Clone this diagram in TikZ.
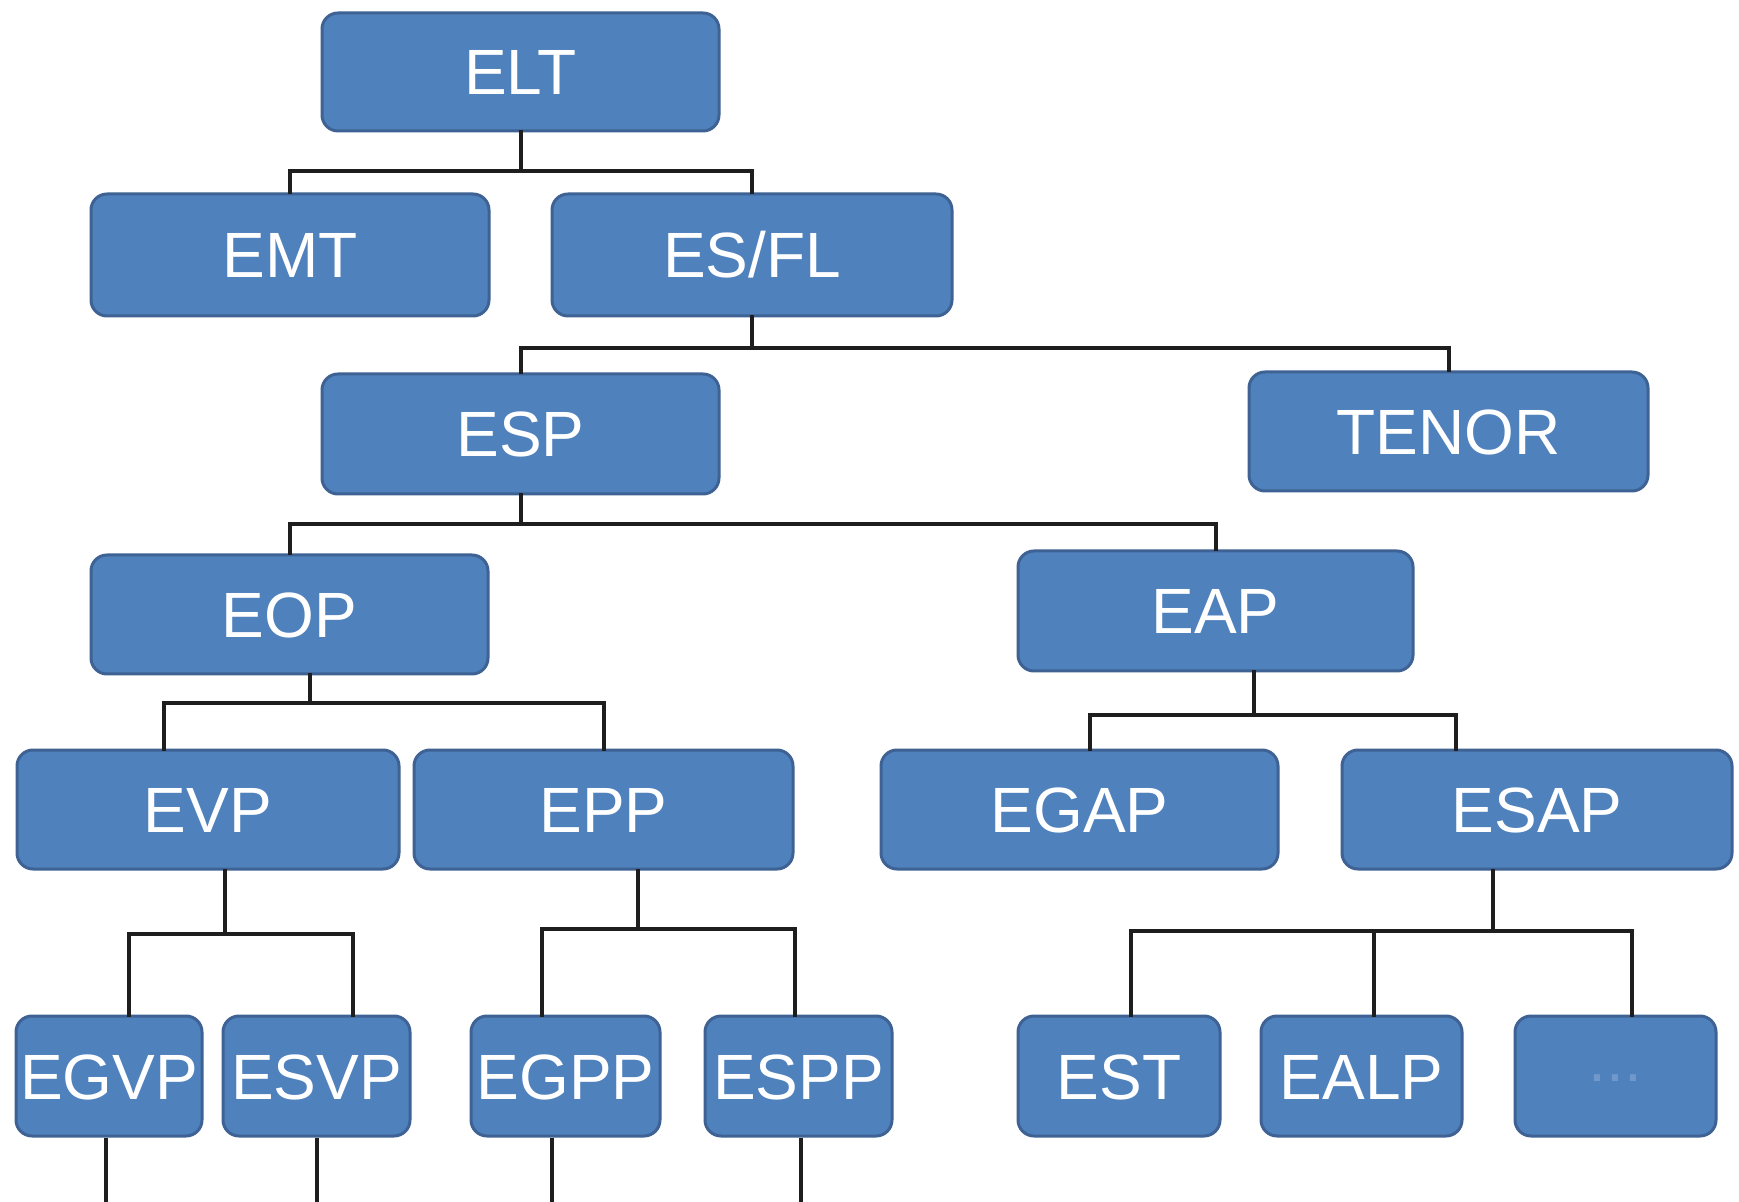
\documentclass[tikz,border=0pt]{standalone}
\usepackage{fontspec}
\setmainfont{Liberation Sans}
\definecolor{boxfill}{HTML}{4F81BD}
\definecolor{boxline}{HTML}{3E6293}
\definecolor{wireclr}{HTML}{1E1E1E}
\definecolor{dimtext}{HTML}{7098CA}
\begin{document}
\begin{tikzpicture}[x=0.5pt,y=-0.5pt,
  box/.style={rectangle, rounded corners=8pt, fill=boxfill, draw=boxline,
    line width=1.5pt, text=white, font=\fontsize{32}{36}\selectfont,
    inner sep=0pt, text height=23pt, text depth=0pt},
  sz/.style 2 args={minimum width=#1*0.5pt, minimum height=#2*0.5pt},
  link/.style={draw=wireclr, line width=2pt, line cap=rect, line join=miter}]

% canvas
\fill[white] (0,0) rectangle (1739,1202);
\useasboundingbox (0,0) rectangle (1739,1202);

% level 0-2
\node[box, sz={397}{118}] (ELT)   at (520.5,72)   {ELT};
\node[box, sz={398}{122}] (EMT)   at (290,255)    {EMT};
\node[box, sz={400}{122}] (ESFL)  at (752,255)    {ES/FL};
\node[box, sz={397}{120}] (ESP)   at (520.5,434)  {ESP};
\node[box, sz={399}{119}] (TENOR) at (1448.5,431.5) {TENOR};
\node[box, sz={397}{119}] (EOP)   at (289.5,614.5) {EOP};
\node[box, sz={395}{120}] (EAP)   at (1215.5,611) {EAP};

% level 3
\node[box, sz={382}{119}] (EVP)  at (208,809.5)    {EVP};
\node[box, sz={379}{119}] (EPP)  at (603.5,809.5)  {EPP};
\node[box, sz={397}{119}] (EGAP) at (1079.5,809.5) {EGAP};
\node[box, sz={390}{119}] (ESAP) at (1537,809.5)   {ESAP};

% level 4
\node[box, sz={186}{120}] (EGVP) at (109,1076)    {EGVP};
\node[box, sz={187}{120}] (ESVP) at (316.5,1076)  {ESVP};
\node[box, sz={189}{120}] (EGPP) at (565.5,1076)  {EGPP};
\node[box, sz={187}{120}] (ESPP) at (798.5,1076)  {ESPP};
\node[box, sz={202}{120}] (EST)  at (1119,1076)   {EST};
\node[box, sz={201}{120}] (EALP) at (1361.5,1076) {EALP};
\node[box, sz={201}{120}, text=dimtext] (MORE) at (1615.5,1076) {\raisebox{9pt}{...}};

% ELT family
\coordinate (jELT) at ([yshift=-19.5pt]ELT.south);
\draw[link] (ELT.south) -- (jELT);
\draw[link] (jELT) -| (EMT.north);
\draw[link] (jELT) -| (ESFL.north);

% ES/FL family
\coordinate (jESFL) at ([yshift=-15.5pt]ESFL.south);
\draw[link] (ESFL.south) -- (jESFL);
\draw[link] (jESFL) -| (ESP.north);
\draw[link] (jESFL) -| (TENOR.north);

% ESP family
\coordinate (jESP) at ([yshift=-14.5pt]ESP.south);
\draw[link] (ESP.south) -- (jESP);
\draw[link] (jESP) -| (EOP.north);
\draw[link] (jESP) -| (EAP.north);

% EOP family
\coordinate (jEOP) at ([xshift=10pt,yshift=-13.5pt]EOP.south);
\draw[link] ([xshift=10pt]EOP.south) -- (jEOP);
\draw[link] (jEOP) -| ([xshift=-22pt]EVP.north);
\draw[link] (jEOP) -| (EPP.north);

% EAP family
\coordinate (jEAP) at ([xshift=19pt,yshift=-21pt]EAP.south);
\draw[link] ([xshift=19pt]EAP.south) -- (jEAP);
\draw[link] (jEAP) -| ([xshift=5pt]EGAP.north);
\draw[link] (jEAP) -| ([xshift=-40.5pt]ESAP.north);

% EVP family
\coordinate (jEVP) at ([xshift=8.5pt,yshift=-31.5pt]EVP.south);
\draw[link] ([xshift=8.5pt]EVP.south) -- (jEVP);
\draw[link] (jEVP) -| ([xshift=10pt]EGVP.north);
\draw[link] (jEVP) -| ([xshift=18pt]ESVP.north);

% EPP family
\coordinate (jEPP) at ([xshift=17pt,yshift=-29pt]EPP.south);
\draw[link] ([xshift=17pt]EPP.south) -- (jEPP);
\draw[link] (jEPP) -| ([xshift=-12pt]EGPP.north);
\draw[link] (jEPP) -| ([xshift=-2pt]ESPP.north);

% ESAP family
\coordinate (jESAP) at ([xshift=-22pt,yshift=-30pt]ESAP.south);
\draw[link] ([xshift=-22pt]ESAP.south) -- (jESAP);
\draw[link] (jESAP) -| ([xshift=6pt]EST.north);
\draw[link] (jESAP) -| ([xshift=6pt]EALP.north);
\draw[link] (jESAP) -| ([xshift=8pt]MORE.north);

% open-ended lines leaving the bottom row
\coordinate (bottom) at (0,1202);
\coordinate (sEGVP) at ([xshift=-1.5pt]EGVP.south);
\coordinate (sESVP) at (ESVP.south);
\coordinate (sEGPP) at ([xshift=-7pt]EGPP.south);
\coordinate (sESPP) at ([xshift=1pt]ESPP.south);
\draw[link, line cap=butt] (sEGVP) -- (sEGVP |- bottom);
\draw[link, line cap=butt] (sESVP) -- (sESVP |- bottom);
\draw[link, line cap=butt] (sEGPP) -- (sEGPP |- bottom);
\draw[link, line cap=butt] (sESPP) -- (sESPP |- bottom);
\end{tikzpicture}
\end{document}
